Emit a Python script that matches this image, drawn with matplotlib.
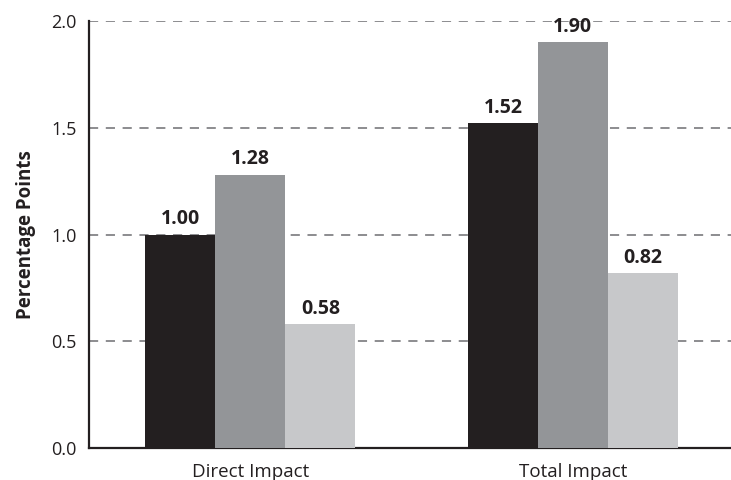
import matplotlib
matplotlib.use("Agg")
import matplotlib.pyplot as plt
import numpy as np

plt.rcParams['font.family'] = ['Open Sans', 'DejaVu Sans']

categories = ["Direct Impact", "Total Impact"]
series_a = [1.00, 1.52]
series_b = [1.28, 1.90]
series_c = [0.58, 0.82]
y_ticks = [0.0, 0.5, 1.0, 1.5, 2.0]
y_tick_labels = ["0.0", "0.5", "1.0", "1.5", "2.0"]

colors = ["#231f20", "#939598", "#c7c8ca"]
width = 0.217

fig = plt.figure(figsize=(7.31, 4.80), dpi=100)
ax = fig.add_axes([0.1218, 0.0667, 0.8782, 0.8895])

x = np.arange(len(categories))
for i, (vals, col) in enumerate(zip([series_a, series_b, series_c], colors)):
    pos = x + (i - 1) * width
    ax.bar(pos, vals, width=width, color=col, zorder=3)
    for px, v in zip(pos, vals):
        ax.text(px, v + 0.025, f"{v:.2f}", ha="center", va="bottom",
                fontsize=14, fontweight="bold", color="#231f20", zorder=4)

ax.set_xlim(-0.5, 1.49)
ax.set_ylim(0, 2.0)
ax.set_xticks(x)
ax.set_xticklabels(categories, fontsize=13.5, color="#231f20")
ax.set_yticks(y_ticks)
ax.set_yticklabels(y_tick_labels, fontsize=13, color="#231f20")
ax.tick_params(axis="y", length=0, pad=9)
ax.tick_params(axis="x", length=0, pad=11)

for yv in y_ticks[1:]:
    ax.axhline(yv, color="#6d6e71", lw=1.1, dashes=(6, 5), zorder=1)

for s in ["top", "right"]:
    ax.spines[s].set_visible(False)
for s in ["left", "bottom"]:
    ax.spines[s].set_color("#231f20")
    ax.spines[s].set_linewidth(1.6)

ax.set_ylabel("Percentage Points", fontsize=13.5, fontweight="bold",
              color="#231f20", labelpad=11)

fig.savefig("out.png", dpi=100)
